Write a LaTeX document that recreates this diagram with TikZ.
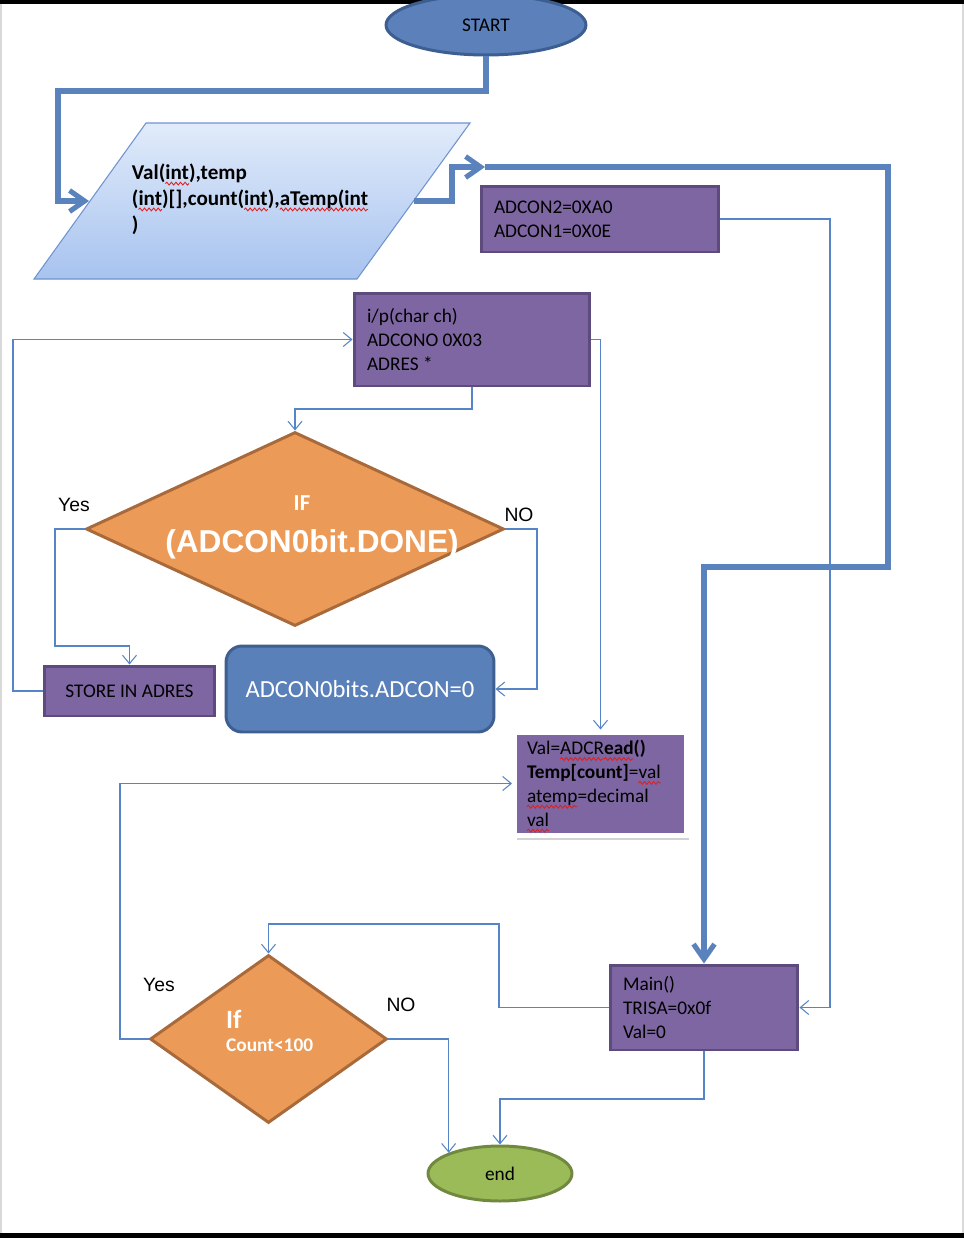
\documentclass[tikz,border=0pt]{standalone}
\usepackage{fontspec}
\setmainfont{Carlito}
\newfontfamily\arialfont{Liberation Sans}
\usetikzlibrary{shapes.geometric,arrows.meta,shadows,decorations.pathmorphing}

\definecolor{startblue}{HTML}{5B80BA}
\definecolor{startedge}{HTML}{3C5E90}
\definecolor{bigblue}{HTML}{5A83BE}
\definecolor{flowblue}{HTML}{5585C6}
\definecolor{boxpurple}{HTML}{7D66A1}
\definecolor{boxedge}{HTML}{5D4B7D}
\definecolor{decorange}{HTML}{EC9A57}
\definecolor{decedge}{HTML}{A86A3B}
\definecolor{bitsblue}{HTML}{5A80B9}
\definecolor{bitsedge}{HTML}{3E5F8F}
\definecolor{endgreen}{HTML}{9BBB59}
\definecolor{endedge}{HTML}{71893F}
\definecolor{paratop}{HTML}{E1EBFA}
\definecolor{parabottom}{HTML}{A7C3EF}
\definecolor{paraedge}{HTML}{6E93CF}
\definecolor{spellred}{HTML}{E02020}

% red wavy underline, as the spell checker marks words
\newsavebox\sqbox
\newcommand\sq[1]{\sbox\sqbox{#1}\usebox\sqbox\hspace{-\wd\sqbox}%
  \tikz[baseline=0pt]{\useasboundingbox (0pt,0pt) rectangle (\the\wd\sqbox,0pt);
    \draw[overlay,spellred,line width=0.5pt,decorate,decoration={snake,amplitude=0.8pt,segment length=2.6pt}]
      (0pt,-2.4pt) -- (\the\wd\sqbox,-2.4pt);}}

\begin{document}
\begin{tikzpicture}[x=0.02cm,y=-0.02cm,
    procbox/.style={rectangle,draw=boxedge,fill=boxpurple,line width=1.7pt,align=flush left,inner xsep=0.26cm,inner ysep=0pt,font=\fontsize{11}{13.6}\selectfont},
    decision/.style={diamond,draw=decedge,fill=decorange,line width=1.7pt,inner sep=0pt},
    terminal/.style={ellipse,line width=1.7pt,inner sep=0pt,font=\fontsize{11}{13}\selectfont},
    answer/.style={font=\arialfont\fontsize{11}{13}\selectfont},
    flow/.style={draw=flowblue,line width=0.6pt,-{Straight Barb[length=0.17cm,width=0.28cm]}},
    bigflow/.style={draw=bigblue,line width=2.9pt,-{Straight Barb[length=0.3cm,width=0.42cm]}}]

  \useasboundingbox (0,0) rectangle (964,1238);
  \fill (0,0) rectangle (964,3.5);
  \fill (0,1233) rectangle (964,1238);
  \fill[black!15] (0,3.5) rectangle (2.5,1233);
  \fill[black!15] (961.5,3.5) rectangle (964,1233);

  % shapes
  \node[terminal,fill=startblue,draw=startedge,minimum width=4cm,minimum height=1.2cm] (start) at (486,25) {START};

  % input parallelogram
  \shade[top color=paratop,bottom color=parabottom,draw=paraedge,line width=0.6pt]
    (146,123) -- (470,123) -- (357,279) -- (34,279) -- cycle;
  \node[align=flush left,font=\bfseries\fontsize{12}{14.7}\selectfont] (inp) at (250,199)
        {Val(\sq{int}),temp\\(\sq{int})[],count(\sq{int}),\sq{aTemp(int}\\)};
  \coordinate (inpW) at (89,201);
  \coordinate (inpE) at (414,201);

  \node[procbox,text width=4.24cm,minimum height=1.32cm] (adc2) at (600,219) {ADCON2=0XA0\\ADCON1=0X0E};
  \node[procbox,text width=4.2cm,minimum height=1.86cm] (ipbox) at (472,339.5) {i/p(char ch)\\ADCONO 0X03\\ADRES *};

  \node[decision,minimum width=8.36cm,minimum height=3.88cm] (dia1) at (295,529) {};
  \node[text=white,font=\bfseries\fontsize{13}{15}\selectfont] (dia1if) at (302,503) {IF};
  \node[text=white,font=\arialfont\bfseries\fontsize{18}{20}\selectfont] (dia1cond) at (312,544) {(ADCON0bit.DONE)};

  \node[procbox,align=center,minimum width=3.42cm,minimum height=1cm] (store) at (129.5,691) {STORE IN ADRES};
  \node[rectangle,rounded corners=0.32cm,draw=bitsedge,fill=bitsblue,line width=1.7pt,minimum width=5.36cm,
        minimum height=1.72cm,text=white,font=\fontsize{14}{16}\selectfont] (bits) at (360,689) {ADCON0bits.ADCON=0};
  \node[procbox,draw=white,line width=0.1cm,drop shadow={shadow xshift=1.6pt,shadow yshift=-2.6pt,fill=black!35},
        text width=2.94cm,inner xsep=0.25cm,minimum height=2.06cm] (valbox) at (600.5,783.5)
        {Val=\sq{ADCR}\textbf{\sq{ead}()}\\\textbf{Temp[count]}=\sq{val}\\\sq{atemp}=decimal\\\sq{val}};
  \node[procbox,text width=3.24cm,minimum height=1.7cm] (main) at (704,1007.5) {Main()\\TRISA=0x0f\\Val=0};

  \node[decision,minimum width=4.74cm,minimum height=3.36cm] (dia2) at (268.5,1039) {};
  \node[anchor=west,text=white,font=\bfseries\fontsize{15}{17}\selectfont] (dia2if) at (220,1019) {If};
  \node[anchor=west,text=white,font=\bfseries\fontsize{11}{13}\selectfont] (dia2cond) at (220,1045) {Count<100};
  \node[terminal,fill=endgreen,draw=endedge,minimum width=2.88cm,minimum height=1.1cm] (stop) at (500,1173.5) {end};

  \node[answer] (yes1) at (74,505) {Yes};
  \node[answer] (no1) at (519,515) {NO};
  \node[answer] (yes2) at (159,985) {Yes};
  \node[answer] (no2) at (401,1005) {NO};

  % thick connectors
  \coordinate (split) at (485,167);
  \draw[bigflow] (start.south) |- (58,91) |- (inpW);
  \draw[bigflow] (inpE) -- (452,201) |- (split);
  \draw[bigflow] (split) -| (888,567) -| (main.north);

  % thin connectors
  \draw[flow] (adc2.east) -- (830,219) |- (main.east);
  \draw[flow] (ipbox.south) -- (472,409) -| (dia1.north);
  \draw[flow] (ipbox.east) -| (valbox.north);
  \draw[flow] (dia1.west) -| (55,646) -| (store.north);
  \draw[flow] (dia1.east) -| (537,689) -- (bits.east);
  \draw[flow] (store.west) -- (13,691) |- (ipbox.west);
  \draw[flow] (dia2.west) -- (120,1039) |- (valbox.west);
  \draw[flow] (main.west) -| (499,924) -| (dia2.north);
  \draw[flow] (dia2.east) -| (stop.158);
  \draw[flow] (main.south) -- (704,1099) -| (stop.north);
\end{tikzpicture}
\end{document}
